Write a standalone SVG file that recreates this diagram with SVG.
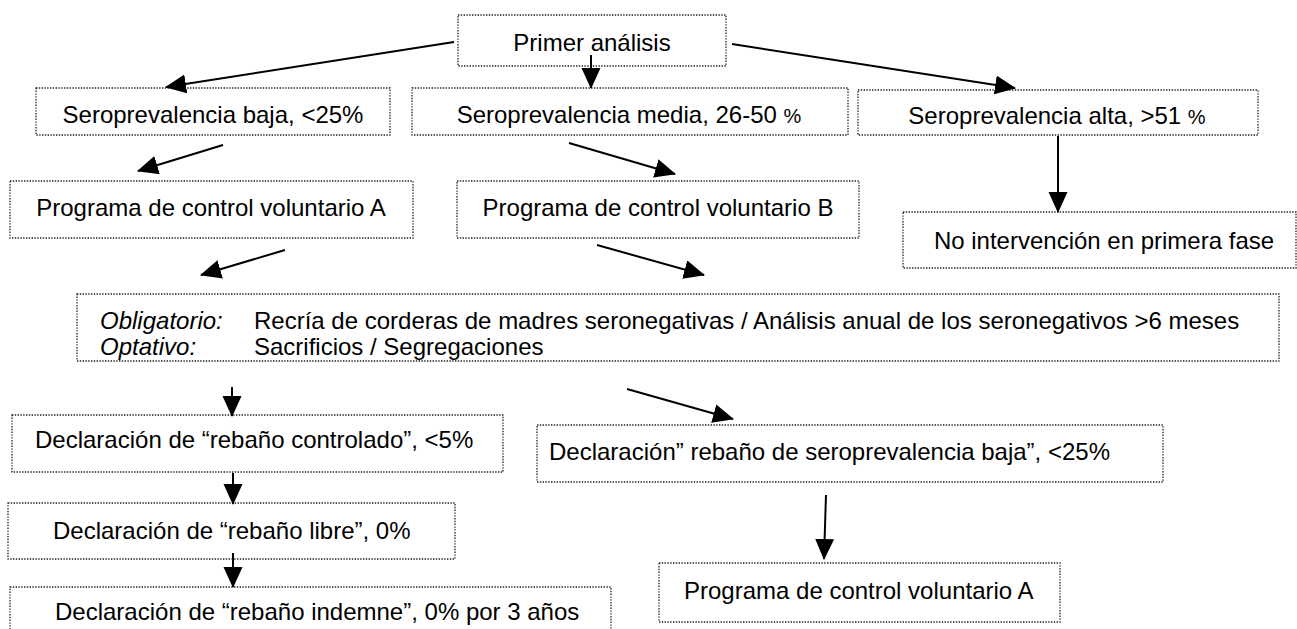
<svg xmlns="http://www.w3.org/2000/svg" width="1297" height="629" viewBox="0 0 1297 629">
<defs>
<style>
.box{fill:#fff;stroke:#222;stroke-width:1.3;stroke-dasharray:1.4 1.4}
.t{font-family:"Liberation Sans",Arial,sans-serif;font-size:24px;fill:#000}
.c{text-anchor:middle}
.i{font-style:italic}
.p{font-size:20px}
.a{stroke:#000;stroke-width:2;fill:none;marker-end:url(#ah)}
</style>
<marker id="ah" markerUnits="userSpaceOnUse" markerWidth="22" markerHeight="20" refX="20" refY="9.5" orient="auto">
<path d="M0,0 L21,9.5 L0,19 Z" fill="#000"/>
</marker>
</defs>
<rect width="1297" height="629" fill="#fff"/>
<g id="n-primer"><rect class="box" x="458" y="15" width="268" height="51"/><text class="t c" x="592" y="51">Primer análisis</text></g>
<g id="n-baja"><rect class="box" x="36" y="88" width="354" height="47"/><text class="t c" x="213" y="123">Seroprevalencia baja, &lt;25%</text></g>
<g id="n-media"><rect class="box" x="412" y="88" width="436" height="47"/><text class="t c" x="629" y="123">Seroprevalencia media, 26-50 <tspan class="p">%</tspan></text></g>
<g id="n-alta"><rect class="box" x="858" y="90" width="400" height="45"/><text class="t c" x="1057" y="124">Seroprevalencia alta, &gt;51 <tspan class="p">%</tspan></text></g>
<g id="n-progA"><rect class="box" x="10" y="181" width="403" height="57"/><text class="t c" x="211" y="216">Programa de control voluntario A</text></g>
<g id="n-progB"><rect class="box" x="457" y="181" width="402" height="57"/><text class="t c" x="658" y="216">Programa de control voluntario B</text></g>
<g id="n-nointerv"><rect class="box" x="903" y="212" width="393" height="56"/><text class="t c" x="1104" y="249">No intervención en primera fase</text></g>
<g id="n-oblig"><rect class="box" x="77" y="294" width="1202" height="67"/>
<text class="t i" x="100" y="329">Obligatorio:</text><text class="t" x="254" y="329">Recría de corderas de madres seronegativas / Análisis anual de los seronegativos &gt;6 meses</text>
<text class="t i" x="100" y="355">Optativo:</text><text class="t" x="254" y="355">Sacrificios / Segregaciones</text></g>
<g id="n-controlado"><rect class="box" x="12" y="415" width="491" height="57"/><text class="t" x="35" y="448">Declaración de “rebaño controlado”, &lt;5%</text></g>
<g id="n-declbaja"><rect class="box" x="537" y="425" width="626" height="57"/><text class="t" x="549" y="460">Declaración” rebaño de seroprevalencia baja”, &lt;25%</text></g>
<g id="n-libre"><rect class="box" x="8" y="503" width="447" height="56"/><text class="t" x="53" y="539">Declaración de “rebaño libre”, 0%</text></g>
<g id="n-progA2"><rect class="box" x="659" y="563" width="401" height="59"/><text class="t" x="684" y="599">Programa de control voluntario A</text></g>
<g id="n-indemne"><rect class="box" x="10" y="587" width="601" height="60"/><text class="t" x="55" y="620">Declaración de “rebaño indemne”, 0% por 3 años</text></g>
<g id="connectors">
<line class="a" x1="454" y1="42" x2="166" y2="87"/>
<line class="a" x1="591" y1="55" x2="591" y2="88"/>
<line class="a" x1="732" y1="44" x2="1015" y2="88"/>
<line class="a" x1="223" y1="145" x2="138" y2="171"/>
<line class="a" x1="569" y1="143" x2="675" y2="174"/>
<line class="a" x1="1058" y1="136" x2="1058" y2="212"/>
<line class="a" x1="285" y1="250" x2="201" y2="275"/>
<line class="a" x1="597" y1="245" x2="704" y2="275"/>
<line class="a" x1="232" y1="387" x2="232" y2="416"/>
<line class="a" x1="627" y1="389" x2="733" y2="419"/>
<line class="a" x1="233" y1="473" x2="233" y2="504"/>
<line class="a" x1="233" y1="553" x2="233" y2="587"/>
<line class="a" x1="826" y1="495" x2="824" y2="559"/>
</g>
</svg>
